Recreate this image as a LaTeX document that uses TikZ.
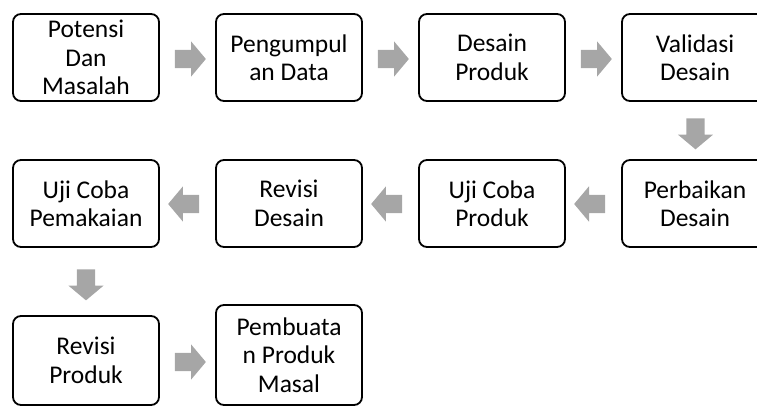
\documentclass[tikz,border=0pt]{standalone}
\usepackage{fontspec}
\setmainfont{Carlito}
\usetikzlibrary{shapes.arrows}
\definecolor{arrowgray}{RGB}{166,166,166}
\begin{document}
\begin{tikzpicture}[x=1pt,y=1pt,
  stepbox/.style={draw=black, line width=1.8pt, rounded corners=8pt, fill=white,
    minimum width=146pt, minimum height=87pt, inner sep=1pt, align=center,
    font=\fontsize{25.5}{28.5}\selectfont},
  blockarrow/.style={single arrow, fill=arrowgray, draw=none, inner sep=9pt,
    minimum width=35pt, minimum height=31pt, single arrow head extend=8.5pt,
    single arrow tip angle=100}
]
\useasboundingbox (0,0) rectangle (757,408);
\clip (0,0) rectangle (757,408);
% row 1
\node[stepbox] (b1) at (86,350.5) {Potensi\\Dan\\Masalah};
\node[stepbox] (b2) at (289,350.5) {Pengumpul\\an Data};
\node[stepbox] (b3) at (492,350.5) {Desain\\Produk};
\node[stepbox] (b4) at (695,350.5) {Validasi\\Desain};
% row 2
\node[stepbox] (b5) at (695,204.5) {Perbaikan\\Desain};
\node[stepbox] (b6) at (492,204.5) {Uji Coba\\Produk};
\node[stepbox] (b7) at (289,204.5) {Revisi\\Desain};
\node[stepbox] (b8) at (86,204.5) {Uji Coba\\Pemakaian};
% row 3
\node[stepbox, minimum height=89pt] (b9) at (86,47.5) {Revisi\\Produk};
\node[stepbox, minimum height=100pt] (b10) at (289,53) {Pembuata\\n Produk\\Masal};
% arrows
\node[blockarrow] (a1) at (186.5,349) {};
\node[blockarrow] (a2) at (389.5,349) {};
\node[blockarrow] (a3) at (592.5,349) {};
\node[blockarrow, shape border rotate=270] (a4) at (695.5,278) {};
\node[blockarrow, shape border rotate=180] (a5) at (593.5,204) {};
\node[blockarrow, shape border rotate=180] (a6) at (390.5,204) {};
\node[blockarrow, shape border rotate=180] (a7) at (187.5,204) {};
\node[blockarrow, shape border rotate=270] (a8) at (86,127) {};
\node[blockarrow] (a9) at (186.5,46) {};
\end{tikzpicture}
\end{document}
